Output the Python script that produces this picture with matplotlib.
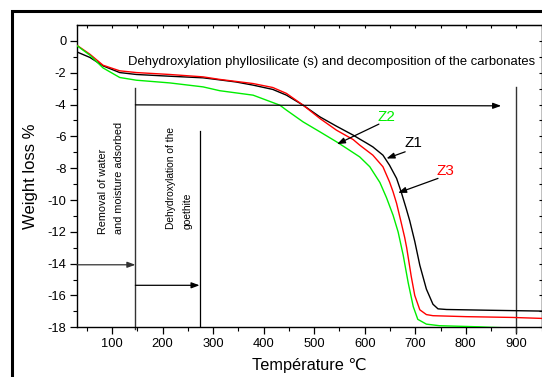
import numpy as np
import matplotlib
matplotlib.use("Agg")
import matplotlib.pyplot as plt
from matplotlib.patches import Rectangle

plt.rcParams['font.family'] = ['Liberation Sans', 'DejaVu Sans']
plt.rcParams['axes.unicode_minus'] = False

# TG curves (temperature in degC, weight loss in %)
t_z1 = [30, 56, 82, 115, 148, 214, 280, 313, 345, 379, 418, 445, 478, 511, 544, 577, 590, 603,
        616, 636, 649, 663, 672, 682, 689, 694, 699, 709, 722, 735, 745, 762, 850, 950]
w_z1 = [-0.69, -1.04, -1.57, -1.99, -2.11, -2.22, -2.32, -2.45, -2.58, -2.78, -3.05, -3.41, -4.04,
        -4.77, -5.36, -5.92, -6.17, -6.41, -6.66, -7.18, -7.81, -8.64, -9.48, -10.53, -11.3,
        -11.95, -12.6, -14.1, -15.6, -16.55, -16.84, -16.88, -16.93, -16.98]

t_z3 = [30, 56, 82, 115, 148, 214, 280, 313, 379, 418, 445, 478, 511, 544, 577, 590, 616, 636,
        649, 656, 663, 672, 679, 683, 692, 699, 709, 722, 735, 800, 893, 950]
w_z3 = [-0.27, -0.84, -1.53, -1.88, -1.99, -2.11, -2.26, -2.42, -2.68, -2.93, -3.30, -4.04,
        -4.87, -5.61, -6.2, -6.55, -7.18, -7.91, -8.86, -9.48, -10.21, -11.4, -12.35, -13.0,
        -14.8, -16.0, -16.9, -17.2, -17.27, -17.33, -17.38, -17.44]

t_z2 = [30, 56, 82, 115, 148, 214, 280, 313, 379, 432, 445, 478, 511, 544, 564, 590, 610, 630,
        643, 656, 666, 676, 686, 696, 705, 722, 748, 827, 847, 950]
w_z2 = [-0.29, -0.9, -1.70, -2.3, -2.47, -2.64, -2.89, -3.13, -3.41, -4.04, -4.35, -5.09, -5.71,
        -6.34, -6.75, -7.29, -7.91, -8.9, -9.85, -10.95, -12.0, -13.45, -15.2, -16.7, -17.5,
        -17.8, -17.9, -17.97, -18.0, -18.1]

# stage markers
t_water, t_goethite, t_carb = 146, 273, 900

fig = plt.figure(figsize=(5.42, 3.77), dpi=100)
ax = fig.add_axes([0.1417, 0.1318, 0.8575, 0.8019])

ax.plot(t_z1, w_z1, color='black', lw=1.0, zorder=3)
ax.plot(t_z3, w_z3, color='red', lw=1.0, zorder=3)
ax.plot(t_z2, w_z2, color='#00ee00', lw=1.0, zorder=3)

ax.set_xlim(30, 950)
ax.set_ylim(-18, 1)
ax.set_xticks(np.arange(100, 901, 100))
ax.set_xticks(np.arange(50, 951, 50), minor=True)
ax.set_yticks(np.arange(-18, 1, 2))
ax.set_yticks(np.arange(-18, 1, 1), minor=True)
ax.tick_params(which='major', direction='out', length=5, width=0.9, labelsize=9.3, pad=2.5)
ax.tick_params(which='minor', direction='out', length=2.8, width=0.8)

sec_x = ax.secondary_xaxis('top')
sec_x.set_xticks(np.arange(50, 951, 50))
sec_x.tick_params(direction='in', length=2.5, width=0.8, labeltop=False)
sec_y = ax.secondary_yaxis('right')
sec_y.set_yticks(np.arange(-18, 1, 1))
sec_y.tick_params(direction='in', length=2.5, width=0.8, labelright=False)

for s in ax.spines.values():
    s.set_linewidth(1.0)

ax.set_xlabel('Température ℃', fontsize=11.7)
ax.set_ylabel('Weight loss %', fontsize=12)
ax.xaxis.set_label_coords(0.5, -0.1)
ax.yaxis.set_label_coords(-0.083, 0.5)

lc = '#333333'
# vertical stage lines
ax.plot([t_water, t_water], [-2.99, -18.1], color=lc, lw=1.0, clip_on=False)
ax.plot([t_goethite, t_goethite], [-5.67, -18], color='black', lw=0.9)
ax.plot([t_carb, t_carb], [-2.89, -18.3], color=lc, lw=1.0, clip_on=False)

arw = dict(arrowstyle='-|>,head_length=0.6,head_width=0.22', color='black', lw=0.9,
           shrinkA=0, shrinkB=0, mutation_scale=8)
ax.annotate('', xy=(870, -4.08), xytext=(t_water, -4.02), arrowprops=arw)
ax.annotate('', xy=(t_water, -14.07), xytext=(30, -14.07), arrowprops=dict(arw, color=lc))
ax.annotate('', xy=(t_goethite, -15.36), xytext=(t_water, -15.36), arrowprops=arw)

ax.text(131, -1.34, 'Dehydroxylation phyllosilicate (s) and decomposition of the carbonates',
        fontsize=9.4, ha='left', va='center')
ax.text(97, -12.15, 'Removal of water\nand moisture adsorbed', rotation=90, fontsize=7.8,
        ha='center', va='bottom', multialignment='left', linespacing=1.75)
ax.text(233, -11.84, 'Dehydroxylation of the\ngoethite', rotation=90, fontsize=7.4,
        ha='center', va='bottom', multialignment='left', linespacing=1.8)

ax.text(642, -4.8, 'Z2', color='#00ee00', fontsize=11, ha='center', va='center')
ax.text(696, -6.41, 'Z1', color='black', fontsize=11, ha='center', va='center')
ax.text(760, -8.19, 'Z3', color='red', fontsize=11, ha='center', va='center')
ax.annotate('', xy=(545, -6.49), xytext=(628, -5.23), arrowprops=arw)
ax.annotate('', xy=(643, -7.39), xytext=(680, -6.97), arrowprops=arw)
ax.annotate('', xy=(666, -9.55), xytext=(745, -8.64), arrowprops=arw)

# outer frame of the original figure
fig.patches.append(Rectangle((12 / 542, -1), 2, 1 - 11 / 377 + 1, transform=fig.transFigure,
                             fill=False, lw=2.2, edgecolor='black', clip_on=False))

fig.savefig('out.png', dpi=100)
